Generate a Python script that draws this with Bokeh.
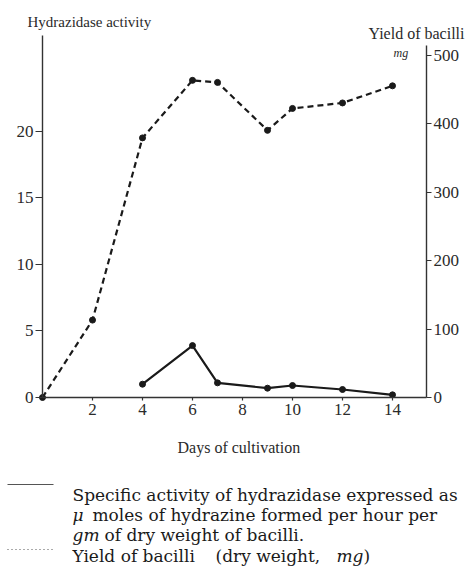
from bokeh.plotting import figure
from bokeh.models import Range1d, LinearAxis, Label, Arrow, FixedTicker
from bokeh.embed import file_html
from bokeh.resources import INLINE

# ---- data ----
days_yield = [0, 2, 4, 6, 7, 9, 10, 12, 14]
yield_mg = [0, 113, 379, 463, 460, 390, 422, 430, 455]
days_activity = [4, 6, 7, 9, 10, 12, 14]
activity = [1.0, 3.9, 1.1, 0.7, 0.9, 0.6, 0.2]
left_ticks = [0, 5, 10, 15, 20]
right_ticks = [0, 100, 200, 300, 400, 500]
x_ticks = [2, 4, 6, 8, 10, 12, 14]

# ---- layout (pixel geometry of the reference) ----
W, H = 467, 566
X0, Y0 = 42, 397          # pixel of the origin
PX_DAY = 25.0             # pixels per day
PX_UNIT = 13.31           # pixels per activity unit
PX_MG = 0.685             # pixels per mg
XMAX, YMAX, MGMAX = 15.36, 27.2, 514
INK = "#1a1a1a"
AX = "#333333"

p = figure(width=W, height=H,
           x_range=Range1d(-X0 / PX_DAY, (W - X0) / PX_DAY),
           y_range=Range1d(-(H - Y0) / PX_UNIT, Y0 / PX_UNIT),
           output_backend="svg", toolbar_location=None, title=None,
           x_axis_type=None, y_axis_type=None,
           min_border=0, min_border_left=0, min_border_right=0,
           min_border_top=0, min_border_bottom=0)
p.extra_y_ranges = {"mg": Range1d(-(H - Y0) / PX_MG, Y0 / PX_MG)}
p.outline_line_color = None
p.background_fill_color = "white"
p.border_fill_color = "white"


def style_axis(ax, tick_out, standoff):
    ax.axis_line_color = AX
    ax.axis_line_width = 1.4
    ax.major_tick_line_color = AX
    ax.major_tick_line_width = 1.2
    ax.major_tick_out = tick_out
    ax.major_tick_in = 0
    ax.minor_tick_out = 0
    ax.minor_tick_in = 0
    ax.major_label_text_font = "Liberation Serif"
    ax.major_label_text_font_size = "17px"
    ax.major_label_text_color = "#2a2a2a"
    ax.major_label_standoff = standoff


xax = LinearAxis(ticker=FixedTicker(ticks=x_ticks), fixed_location=0, bounds=(0, XMAX))
style_axis(xax, 3, 3)
p.add_layout(xax, "below")

lax = LinearAxis(ticker=FixedTicker(ticks=left_ticks), fixed_location=0, bounds=(0, YMAX))
style_axis(lax, 7, 2)
p.add_layout(lax, "left")

rax = LinearAxis(y_range_name="mg", ticker=FixedTicker(ticks=right_ticks),
                 fixed_location=XMAX, bounds=(0, MGMAX))
style_axis(rax, 5, 2)
p.add_layout(rax, "right")

# ---- series ----
p.line(days_yield, yield_mg, y_range_name="mg", line_dash="6 4",
       line_width=2.2, line_color=INK)
p.scatter(days_yield, yield_mg, y_range_name="mg", size=6,
          fill_color=INK, line_color=INK)
p.line(days_activity, activity, line_width=2.2, line_color=INK)
p.scatter(days_activity, activity, size=6, fill_color=INK, line_color=INK)


# ---- text placed by reference pixel ----
def dx(px):
    return (px - X0) / PX_DAY


def dy(py):
    return (Y0 - py) / PX_UNIT


def label(text, px, py, size, font="Liberation Serif", style="normal",
          align="left", color=INK):
    p.add_layout(Label(x=dx(px), y=dy(py), text=text, text_font=font,
                       text_font_size=size, text_font_style=style,
                       text_align=align, text_baseline="alphabetic",
                       text_color=color))


label("Hydrazidase activity", 27, 21, "15px", color="#2a2a2a")
label("Yield of bacilli", 368, 33, "16px", color="#2a2a2a")
label("mg", 393, 52, "12px", style="italic", color="#2a2a2a")
label("Days of cultivation", 177, 447, "16px", color="#2a2a2a")

# legend text: (baseline y, [(x, text, italic)])
LF = "DejaVu Serif"
legend_rows = [
    (494, [(72, "Specific activity of hydrazidase expressed as", 0)]),
    (514, [(72, "\u03bc", 1), (92, "moles of hydrazine  formed per hour per", 0)]),
    (534, [(72, "gm", 1), (104, "of dry  weight of bacilli.", 0)]),
    (555, [(72, "Yield of bacilli", 0), (215, "(dry weight,", 0),
           (336, "mg", 1), (363, ")", 0)]),
]
for base, parts in legend_rows:
    for px, txt, it in parts:
        label(txt, px, base, "17px", font=LF, style="italic" if it else "normal")

# legend line samples
p.add_layout(Arrow(end=None, x_start=dx(7), y_start=dy(484), x_end=dx(53), y_end=dy(484),
                   line_color="#555555", line_width=1.2))
p.add_layout(Arrow(end=None, x_start=dx(7), y_start=dy(549), x_end=dx(53), y_end=dy(549),
                   line_color="#555555", line_width=1.2, line_dash="1 3"))

open("out.html", "w").write(file_html(p, INLINE))
